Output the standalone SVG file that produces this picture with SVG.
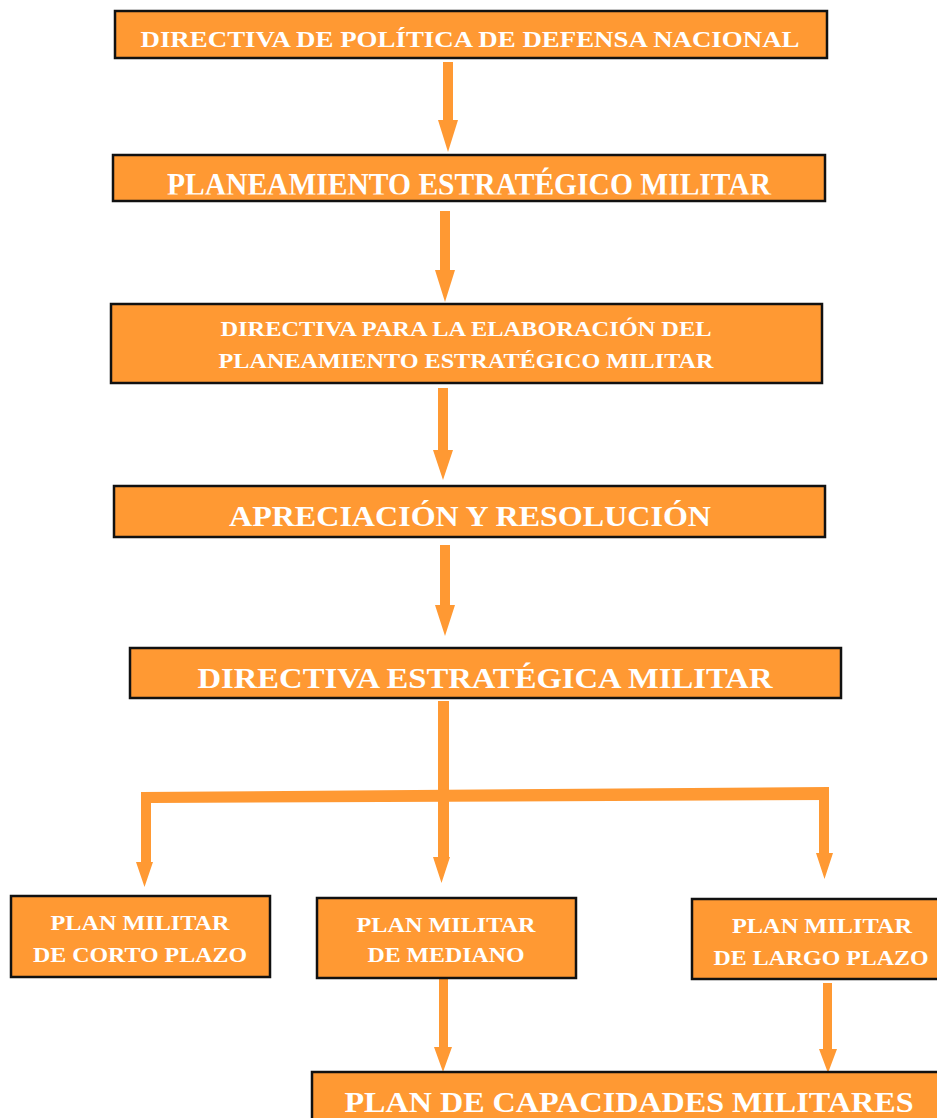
<svg xmlns="http://www.w3.org/2000/svg" width="937" height="1118" viewBox="0 0 937 1118">
<style>
.box{fill:#FF9933;stroke:#111;stroke-width:2.5}
.t{font-family:"Liberation Serif","Times New Roman",serif;font-weight:bold;fill:#fff;text-anchor:middle}
.arr{fill:#FF9933;stroke:none}
</style>
<defs>
<clipPath id="c2"><rect x="114" y="156" width="710" height="38.5"/></clipPath>
</defs>
<rect width="937" height="1118" fill="#fff"/>
<g id="connectors">
<path class="arr" d="M443,62 h10 v58 h5 l-10,32 l-10,-32 h5 z"/>
<path class="arr" d="M440,211 h10 v59 h5 l-10,32 l-10,-32 h5 z"/>
<path class="arr" d="M438,388 h10 v62 h5 l-10,30 l-10,-30 h5 z"/>
<path class="arr" d="M440,545 h10 v60 h5 l-10,31 l-10,-31 h5 z"/>
<path class="arr" d="M438,701 h11 v90 h-11 z"/>
<path class="arr" d="M141,792 L829,787 L829,800 L151,803 L141,803 z"/>
<path class="arr" d="M141,800 h10 v62 h2 l-8.5,25 l-8.5,-25 h5 z"/>
<path class="arr" d="M438,800 h11 v57 h1 l-8.5,26 l-8.5,-26 h5 z"/>
<path class="arr" d="M819,795 h10 v58 h4 l-8.5,26 l-8.5,-26 h3 z"/>
<path class="arr" d="M439,979 h9 v68 h4 l-9,25 l-9,-25 h5 z"/>
<path class="arr" d="M823,983 h9 v66 h5 l-9,24 l-9,-24 h4 z"/>
</g>
<g id="n1">
<rect class="box" x="115" y="11" width="712" height="47"/>
<text class="t" x="470" y="47" font-size="24" textLength="659" lengthAdjust="spacingAndGlyphs">DIRECTIVA DE POLÍTICA DE DEFENSA NACIONAL</text>
</g>
<g id="n2">
<rect class="box" x="113" y="155" width="712" height="46"/>
<text class="t" x="469" y="195" font-size="32" textLength="604" lengthAdjust="spacingAndGlyphs" clip-path="url(#c2)">PLANEAMIENTO ESTRATÉGICO MILITAR</text>
</g>
<g id="n3">
<rect class="box" x="111" y="304" width="711" height="79"/>
<text class="t" x="466" y="336" font-size="21" textLength="491" lengthAdjust="spacingAndGlyphs">DIRECTIVA PARA LA ELABORACIÓN DEL</text>
<text class="t" x="466" y="368" font-size="21" textLength="495" lengthAdjust="spacingAndGlyphs">PLANEAMIENTO ESTRATÉGICO MILITAR</text>
</g>
<g id="n4">
<rect class="box" x="114" y="486" width="711" height="51"/>
<text class="t" x="470" y="526" font-size="30" textLength="482" lengthAdjust="spacingAndGlyphs">APRECIACIÓN Y RESOLUCIÓN</text>
</g>
<g id="n5">
<rect class="box" x="130" y="648" width="711" height="50"/>
<text class="t" x="485" y="688" font-size="30" textLength="575" lengthAdjust="spacingAndGlyphs">DIRECTIVA ESTRATÉGICA MILITAR</text>
</g>
<g id="n6">
<rect class="box" x="11" y="896" width="259" height="81"/>
<text class="t" x="140" y="930" font-size="22" textLength="179" lengthAdjust="spacingAndGlyphs">PLAN MILITAR</text>
<text class="t" x="140" y="962" font-size="22" textLength="214" lengthAdjust="spacingAndGlyphs">DE CORTO PLAZO</text>
</g>
<g id="n7">
<rect class="box" x="317" y="898" width="259" height="80"/>
<text class="t" x="446" y="932" font-size="22" textLength="179" lengthAdjust="spacingAndGlyphs">PLAN MILITAR</text>
<text class="t" x="446" y="962" font-size="22" textLength="157" lengthAdjust="spacingAndGlyphs">DE MEDIANO</text>
</g>
<g id="n8">
<rect class="box" x="692" y="899" width="250" height="80"/>
<text class="t" x="822" y="933" font-size="22" textLength="180" lengthAdjust="spacingAndGlyphs">PLAN MILITAR</text>
<text class="t" x="821" y="965" font-size="22" textLength="215" lengthAdjust="spacingAndGlyphs">DE LARGO PLAZO</text>
</g>
<g id="n9">
<rect class="box" x="312" y="1072" width="630" height="60"/>
<text class="t" x="629" y="1112" font-size="30" textLength="569" lengthAdjust="spacingAndGlyphs">PLAN DE CAPACIDADES MILITARES</text>
</g>
</svg>
